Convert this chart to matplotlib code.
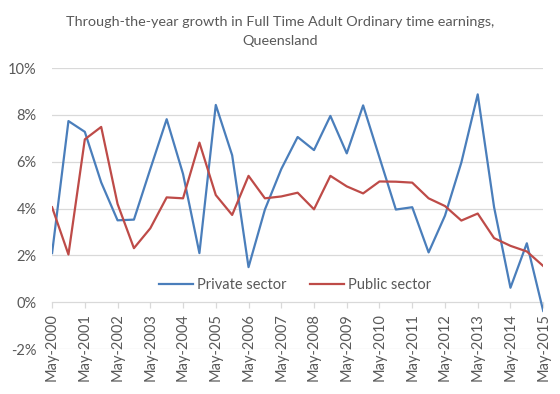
import matplotlib
matplotlib.use("Agg")
import matplotlib.pyplot as plt
import numpy as np

# half-yearly observations, May-2000 .. May-2015
years = list(range(2000, 2016))
tick_labels = ["May-{}".format(y) for y in years]

private_sector = [2.10, 7.74, 7.28, 5.12, 3.50, 3.53, 5.69, 7.82, 5.48, 2.10,
                  8.43, 6.28, 1.50, 3.96, 5.69, 7.06, 6.50, 7.96, 6.36, 8.41,
                  6.18, 3.96, 4.06, 2.13, 3.70, 5.97, 8.88, 4.06, 0.62, 2.52,
                  -0.37]
public_sector = [4.06, 2.04, 6.96, 7.49, 4.20, 2.31, 3.16, 4.48, 4.44, 6.82,
                 4.58, 3.73, 5.40, 4.44, 4.52, 4.68, 3.97, 5.40, 4.95, 4.65,
                 5.16, 5.15, 5.11, 4.44, 4.11, 3.49, 3.79, 2.74, 2.41, 2.17,
                 1.55]

plt.rcParams['font.family'] = ['Lato', 'DejaVu Sans']
text_col = '#595959'
grid_col = '#d9d9d9'

fig = plt.figure(figsize=(5.6, 3.94), dpi=100)
ax = fig.add_axes([0.093, 0.114, 0.877, 0.713])

x = np.arange(len(private_sector))
ax.plot(x, private_sector, color='#4a7ebb', lw=1.6, label='Private sector', zorder=3)
ax.plot(x, public_sector, color='#be4b48', lw=1.6, label='Public sector', zorder=3)

ax.set_xlim(0, len(x) - 1)
ax.set_ylim(-2, 10)
ax.set_yticks(np.arange(-2, 11, 2))
ax.set_yticklabels(["{}%".format(v) for v in range(-2, 11, 2)])
ax.set_xticks(x[::2])
ax.set_xticklabels(tick_labels)

for v in range(-2, 11, 2):
    if v != 0:
        ax.axhline(v, color=grid_col, lw=0.9, zorder=0)

for s in ['top', 'right', 'left']:
    ax.spines[s].set_visible(False)
ax.spines['bottom'].set_position(('data', 0))
ax.spines['bottom'].set_color(grid_col)
ax.spines['bottom'].set_linewidth(0.9)

ax.tick_params(axis='y', length=0, pad=11, labelsize=10.5, labelcolor=text_col)
ax.tick_params(axis='x', direction='out', length=4, color=grid_col, width=0.9,
               pad=4, labelsize=10.5, labelcolor=text_col, labelrotation=90)
for lbl in ax.get_xticklabels():
    lbl.set_va('top')
    lbl.set_ha('center')

leg = ax.legend(loc='center', bbox_to_anchor=(0.495, 0.228), ncol=2, frameon=False,
                fontsize=10.5, handlelength=2.3, columnspacing=1.6, handletextpad=0.3)
for t in leg.get_texts():
    t.set_color(text_col)

fig.text(0.5, 0.92, "Through-the-year growth in Full Time Adult Ordinary time earnings,\nQueensland",
         ha='center', va='center', fontsize=10.4, color=text_col, linespacing=1.75)

fig.savefig("out.png", dpi=100)
